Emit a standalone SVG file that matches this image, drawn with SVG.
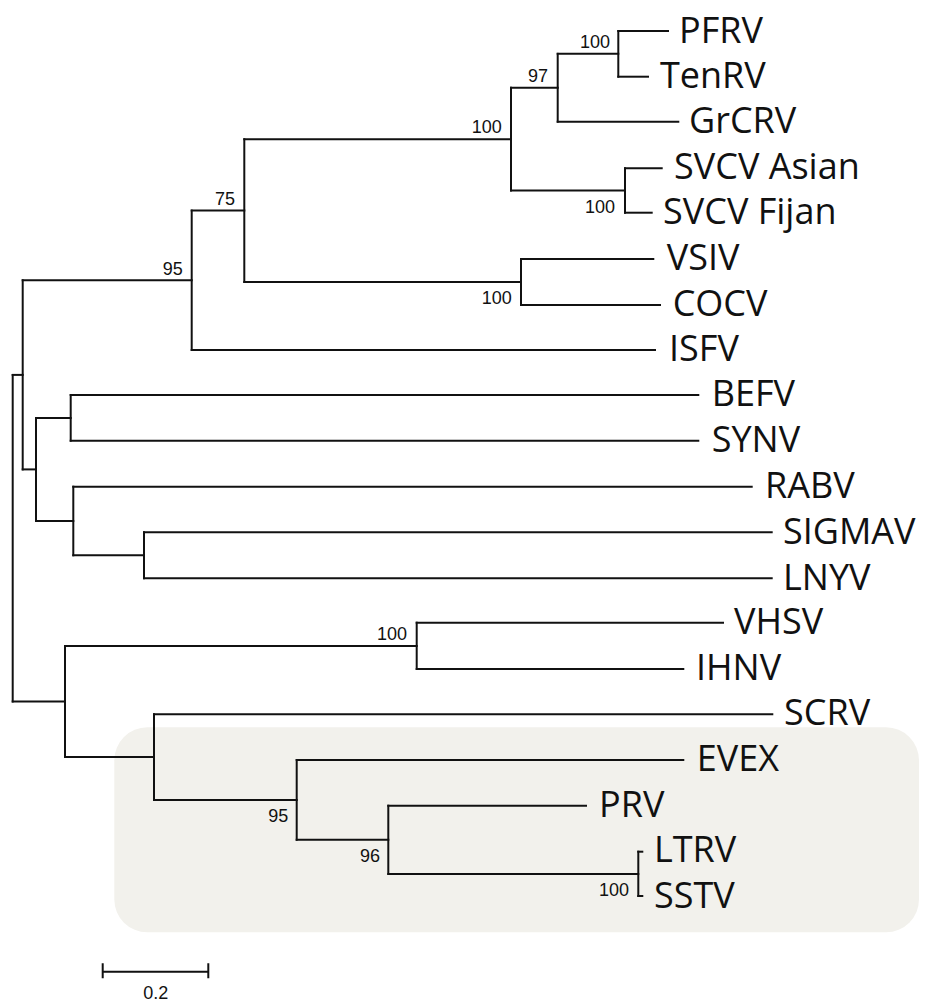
<svg xmlns="http://www.w3.org/2000/svg" width="937" height="1003" viewBox="0 0 937 1003">
<style>
.br{fill:none;stroke:#111;stroke-width:2;stroke-linecap:square}
.leaf{font-family:"Open Sans","Liberation Sans",sans-serif;font-size:36px;fill:#111}
.bs{font-family:"Liberation Sans",Arial,sans-serif;font-size:18px;fill:#111;text-anchor:end}
.sc{font-family:"Liberation Sans",Arial,sans-serif;font-size:18px;fill:#111;text-anchor:middle}
</style>
<rect id="highlight" x="114.3" y="727.3" width="804.7" height="205" rx="33" ry="33" fill="#f2f1ec"/>
<g id="connectors" class="br">
  <path d="M618.3,31 V76.7"/>
  <path d="M557.7,53.85 V121.7"/>
  <path d="M625,168.3 V212.7"/>
  <path d="M511,87.8 V190.5"/>
  <path d="M521,259 V305"/>
  <path d="M244.3,139.2 V282"/>
  <path d="M191.7,210.6 V350"/>
  <path d="M70.7,395 V440.7"/>
  <path d="M144,532.3 V578.3"/>
  <path d="M73.3,486.7 V555.3"/>
  <path d="M36,417.9 V521"/>
  <path d="M22.7,280.3 V469.4"/>
  <path d="M416.7,622.7 V669"/>
  <path d="M638.3,851.7 V896"/>
  <path d="M388.3,805.7 V873.9"/>
  <path d="M296.7,760 V839.8"/>
  <path d="M154,714.3 V799.9"/>
  <path d="M65,645.9 V757.1"/>
  <path d="M12.7,374.9 V701.5"/>
  <path d="M618.3,31 H668"/>
  <path d="M618.3,76.7 H648"/>
  <path d="M557.7,121.7 H678.3"/>
  <path d="M625,168.3 H661.7"/>
  <path d="M625,212.7 H651.7"/>
  <path d="M521,259 H653.3"/>
  <path d="M521,305 H660"/>
  <path d="M191.7,350 H655"/>
  <path d="M70.7,395 H698.3"/>
  <path d="M70.7,440.7 H698.3"/>
  <path d="M73.3,486.7 H751.7"/>
  <path d="M144,532.3 H771.7"/>
  <path d="M144,578.3 H771.7"/>
  <path d="M416.7,622.7 H723"/>
  <path d="M416.7,669 H683.3"/>
  <path d="M154,714.3 H772.3"/>
  <path d="M296.7,760 H683.3"/>
  <path d="M388.3,805.7 H586"/>
  <path d="M638.3,851.7 H642.3"/>
  <path d="M638.3,896 H642.3"/>
  <path d="M557.7,53.85 H618.3"/>
  <path d="M511,87.8 H557.7"/>
  <path d="M511,190.5 H625"/>
  <path d="M244.3,139.2 H511"/>
  <path d="M244.3,282 H521"/>
  <path d="M191.7,210.6 H244.3"/>
  <path d="M22.7,280.3 H191.7"/>
  <path d="M36,417.9 H70.7"/>
  <path d="M73.3,555.3 H144"/>
  <path d="M36,521 H73.3"/>
  <path d="M22.7,469.4 H36"/>
  <path d="M12.7,374.9 H22.7"/>
  <path d="M65,645.9 H416.7"/>
  <path d="M388.3,873.9 H638.3"/>
  <path d="M296.7,839.8 H388.3"/>
  <path d="M154,799.9 H296.7"/>
  <path d="M65,757.1 H154"/>
  <path d="M12.7,701.5 H65"/>
</g>
<g id="leaf-PFRV"><text class="leaf" x="679" y="43">PFRV</text></g>
<g id="leaf-TenRV"><text class="leaf" x="660" y="88">TenRV</text></g>
<g id="leaf-GrCRV"><text class="leaf" x="689" y="133">GrCRV</text></g>
<g id="leaf-SVCV-Asian"><text class="leaf" x="674" y="179">SVCV Asian</text></g>
<g id="leaf-SVCV-Fijan"><text class="leaf" x="663" y="224">SVCV Fijan</text></g>
<g id="leaf-VSIV"><text class="leaf" x="666.7" y="270">VSIV</text></g>
<g id="leaf-COCV"><text class="leaf" x="672.7" y="316">COCV</text></g>
<g id="leaf-ISFV"><text class="leaf" x="669" y="361">ISFV</text></g>
<g id="leaf-BEFV"><text class="leaf" x="711.7" y="406">BEFV</text></g>
<g id="leaf-SYNV"><text class="leaf" x="711.7" y="452">SYNV</text></g>
<g id="leaf-RABV"><text class="leaf" x="765" y="498">RABV</text></g>
<g id="leaf-SIGMAV"><text class="leaf" x="783" y="544">SIGMAV</text></g>
<g id="leaf-LNYV"><text class="leaf" x="783" y="590">LNYV</text></g>
<g id="leaf-VHSV"><text class="leaf" x="734" y="634">VHSV</text></g>
<g id="leaf-IHNV"><text class="leaf" x="696" y="680">IHNV</text></g>
<g id="leaf-SCRV"><text class="leaf" x="784" y="725">SCRV</text></g>
<g id="leaf-EVEX"><text class="leaf" x="696.7" y="771">EVEX</text></g>
<g id="leaf-PRV"><text class="leaf" x="599" y="817">PRV</text></g>
<g id="leaf-LTRV"><text class="leaf" x="654" y="862">LTRV</text></g>
<g id="leaf-SSTV"><text class="leaf" x="654" y="908">SSTV</text></g>
<g id="node-PFRV-TenRV"><text class="bs" x="610" y="48">100</text></g>
<g id="node-GrCRV"><text class="bs" x="548" y="81.7">97</text></g>
<g id="node-SVCV-clade"><text class="bs" x="501.7" y="133.3">100</text></g>
<g id="node-SVCV"><text class="bs" x="615" y="212.7">100</text></g>
<g id="node-75"><text class="bs" x="235" y="205">75</text></g>
<g id="node-VSIV-COCV"><text class="bs" x="511.7" y="304">100</text></g>
<g id="node-95-top"><text class="bs" x="182.7" y="275">95</text></g>
<g id="node-VHSV-IHNV"><text class="bs" x="407" y="640">100</text></g>
<g id="node-95-bottom"><text class="bs" x="288.3" y="821.7">95</text></g>
<g id="node-96"><text class="bs" x="380" y="861.7">96</text></g>
<g id="node-LTRV-SSTV"><text class="bs" x="629" y="896">100</text></g>
<g id="scale-bar">
  <path class="br" d="M102.7,971.7 H208.3 M102.7,963.3 V978.3 M208.3,963.3 V978.3" style="stroke-linecap:butt"/>
  <text class="sc" x="155.7" y="999">0.2</text>
</g>
</svg>
